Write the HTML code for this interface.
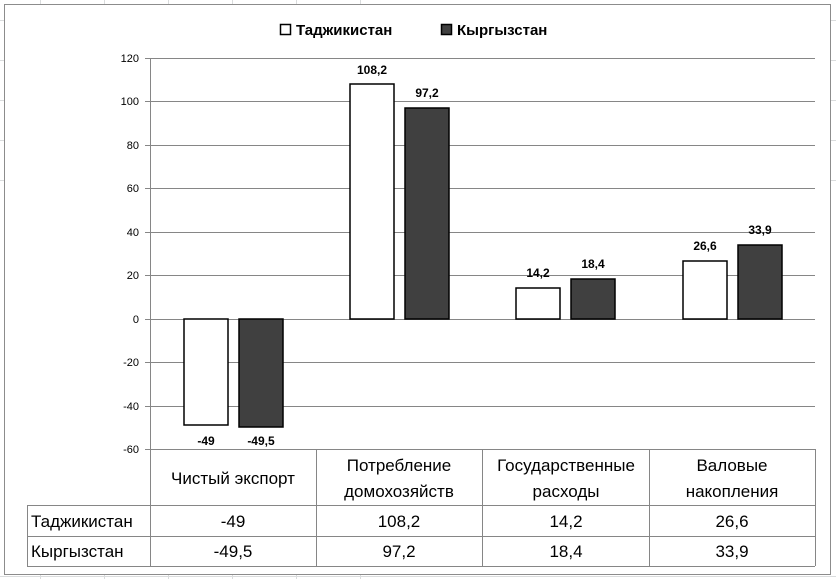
<!DOCTYPE html>
<html><head><meta charset="utf-8"><style>
body{margin:0;background:#fff;}
svg{display:block;font-family:"Liberation Sans",sans-serif;}
</style></head><body>
<svg width="836" height="579" xmlns="http://www.w3.org/2000/svg">
<g stroke="#dadcdd" stroke-width="1">
<line x1="0" y1="576.5" x2="836" y2="576.5"/>
<line x1="40.5" y1="574" x2="40.5" y2="579"/><line x1="104.5" y1="574" x2="104.5" y2="579"/><line x1="168.5" y1="574" x2="168.5" y2="579"/><line x1="232.5" y1="574" x2="232.5" y2="579"/><line x1="296.5" y1="574" x2="296.5" y2="579"/><line x1="360.5" y1="574" x2="360.5" y2="579"/>
<line x1="40.5" y1="0" x2="40.5" y2="4"/><line x1="104.5" y1="0" x2="104.5" y2="4"/><line x1="168.5" y1="0" x2="168.5" y2="4"/><line x1="232.5" y1="0" x2="232.5" y2="4"/><line x1="296.5" y1="0" x2="296.5" y2="4"/><line x1="360.5" y1="0" x2="360.5" y2="4"/>
<line x1="0" y1="20.5" x2="4" y2="20.5"/><line x1="0" y1="60.5" x2="4" y2="60.5"/><line x1="0" y1="100.5" x2="4" y2="100.5"/><line x1="0" y1="140.5" x2="4" y2="140.5"/><line x1="0" y1="180.5" x2="4" y2="180.5"/>
<line x1="831" y1="20.5" x2="836" y2="20.5"/><line x1="831" y1="60.5" x2="836" y2="60.5"/><line x1="831" y1="100.5" x2="836" y2="100.5"/><line x1="831" y1="140.5" x2="836" y2="140.5"/><line x1="831" y1="180.5" x2="836" y2="180.5"/>
</g>
<rect x="4.5" y="4.5" width="826" height="570" fill="#fff" stroke="#8c8c8c"/>
<!-- legend -->
<rect x="280.5" y="24.5" width="10" height="10" fill="#fff" stroke="#000" stroke-width="1.5"/>
<text x="296" y="35" font-size="15" font-weight="bold">Таджикистан</text>
<rect x="441.5" y="24.5" width="10" height="10" fill="#404040" stroke="#000" stroke-width="1.5"/>
<text x="457" y="35" font-size="15" font-weight="bold">Кыргызстан</text>
<!-- gridlines -->
<g stroke="#868686" stroke-width="1">
<line x1="145" y1="58.5" x2="815" y2="58.5"/>
<line x1="145" y1="101.5" x2="815" y2="101.5"/>
<line x1="145" y1="145.5" x2="815" y2="145.5"/>
<line x1="145" y1="188.5" x2="815" y2="188.5"/>
<line x1="145" y1="232.5" x2="815" y2="232.5"/>
<line x1="145" y1="275.5" x2="815" y2="275.5"/>
<line x1="145" y1="319.5" x2="815" y2="319.5"/>
<line x1="145" y1="362.5" x2="815" y2="362.5"/>
<line x1="145" y1="406.5" x2="815" y2="406.5"/>
<line x1="145" y1="449.5" x2="815" y2="449.5"/>
<line x1="150.5" y1="58" x2="150.5" y2="566"/>
</g>
<g font-size="11" text-anchor="end" fill="#000">
<text x="139" y="62">120</text><text x="139" y="105">100</text><text x="139" y="149">80</text><text x="139" y="192">60</text><text x="139" y="236">40</text><text x="139" y="279">20</text><text x="139" y="323">0</text><text x="139" y="366">-20</text><text x="139" y="410">-40</text><text x="139" y="453">-60</text>
</g>
<!-- bars -->
<g stroke="#000" stroke-width="1.5">
<rect x="184" y="319" width="44" height="106" fill="#fff"/>
<rect x="239" y="319" width="44" height="108" fill="#404040"/>
<rect x="350" y="84" width="44" height="235" fill="#fff"/>
<rect x="405" y="108" width="44" height="211" fill="#404040"/>
<rect x="516" y="288" width="44" height="31" fill="#fff"/>
<rect x="571" y="279" width="44" height="40" fill="#404040"/>
<rect x="683" y="261" width="44" height="58" fill="#fff"/>
<rect x="738" y="245" width="44" height="74" fill="#404040"/>
</g>
<g font-size="12" font-weight="bold" text-anchor="middle">
<text x="206" y="445">-49</text><text x="261" y="445">-49,5</text>
<text x="372" y="74">108,2</text><text x="427" y="97">97,2</text>
<text x="538" y="277">14,2</text><text x="593" y="268">18,4</text>
<text x="705" y="250">26,6</text><text x="760" y="234">33,9</text>
</g>
<!-- table -->
<g stroke="#868686" stroke-width="1" fill="none">
<line x1="150" y1="449.5" x2="815" y2="449.5"/>
<line x1="27" y1="505.5" x2="815" y2="505.5"/>
<line x1="27" y1="536.5" x2="815" y2="536.5"/>
<line x1="27" y1="566.5" x2="815" y2="566.5"/>
<line x1="27.5" y1="505" x2="27.5" y2="566"/>
<line x1="316.5" y1="449" x2="316.5" y2="566"/>
<line x1="482.5" y1="449" x2="482.5" y2="566"/>
<line x1="649.5" y1="449" x2="649.5" y2="566"/>
<line x1="815.5" y1="449" x2="815.5" y2="566"/>
</g>
<g font-size="17" text-anchor="middle" fill="#000">
<text x="233" y="484">Чистый экспорт</text>
<text x="399" y="471">Потребление</text><text x="399" y="497">домохозяйств</text>
<text x="566" y="471">Государственные</text><text x="566" y="497">расходы</text>
<text x="732" y="471">Валовые</text><text x="732" y="497">накопления</text>
<text x="233" y="527">-49</text><text x="399" y="527">108,2</text><text x="566" y="527">14,2</text><text x="732" y="527">26,6</text>
<text x="233" y="557">-49,5</text><text x="399" y="557">97,2</text><text x="566" y="557">18,4</text><text x="732" y="557">33,9</text>
</g>
<g font-size="17" fill="#000">
<text x="31" y="527">Таджикистан</text>
<text x="31" y="557">Кыргызстан</text>
</g>
</svg>
</body></html>
